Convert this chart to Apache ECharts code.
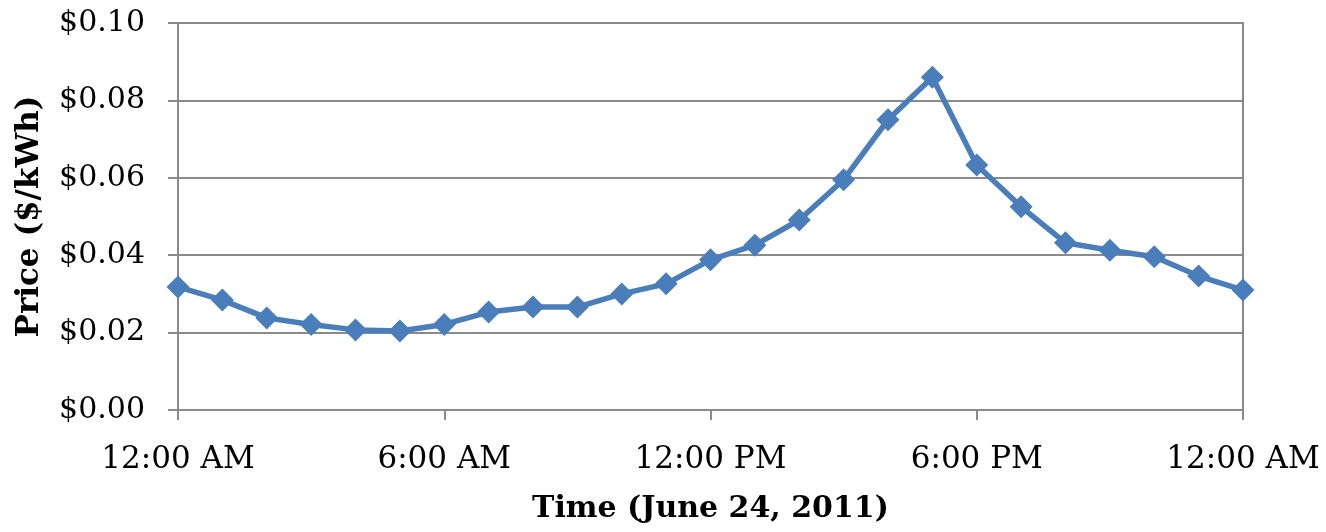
<!DOCTYPE html>
<html>
<head>
<meta charset="utf-8">
<script src="https://cdn.jsdelivr.net/npm/echarts@6/dist/echarts.min.js"></script>
<style>html,body{margin:0;padding:0;background:#fff}#c{width:1326px;height:532px}</style>
</head>
<body>
<div id="c"></div>
<script>
const hours = [0,1,2,3,4,5,6,7,8,9,10,11,12,13,14,15,16,17,18,19,20,21,22,23,24];
const prices = [0.0318,0.0284,0.0238,0.0221,0.0207,0.0204,0.0221,0.0253,0.0266,0.0266,0.0300,0.0326,0.0388,0.0426,0.0491,0.0595,0.0750,0.0860,0.0633,0.0525,0.0432,0.0413,0.0396,0.0346,0.0310];
const xTickLabels = {0:'12:00 AM',6:'6:00 AM',12:'12:00 PM',18:'6:00 PM',24:'12:00 AM'};
const xTitle = 'Time (June 24, 2011)';
const yTitle = 'Price ($/kWh)';

const gridColor = '#8a8a8a';
const font = '"DejaVu Serif", serif';
const chart = echarts.init(document.getElementById('c'), null, {renderer:'canvas'});
chart.setOption({
  animation:false,
  grid:{left:178,right:83,top:23,bottom:122,containLabel:false},
  xAxis:{
    type:'value',min:0,max:24,interval:6,
    name:xTitle,nameLocation:'middle',nameGap:84,
    nameTextStyle:{fontFamily:font,fontWeight:'bold',fontSize:30,color:'#000'},
    axisLine:{show:true,lineStyle:{color:gridColor,width:2}},
    axisTick:{show:true,length:10,lineStyle:{color:gridColor,width:2}},
    splitLine:{show:false},
    axisLabel:{fontFamily:font,fontSize:31,color:'#000',margin:34,formatter:v=>xTickLabels[v]||''}
  },
  yAxis:[{
    type:'value',min:0,max:0.1,interval:0.02,
    name:yTitle,nameLocation:'middle',nameGap:133,
    nameTextStyle:{fontFamily:font,fontWeight:'bold',fontSize:31,color:'#000'},
    axisLine:{show:true,lineStyle:{color:gridColor,width:2}},
    axisTick:{show:true,length:10,lineStyle:{color:gridColor,width:2}},
    splitLine:{show:true,lineStyle:{color:gridColor,width:2}},
    axisLabel:{fontFamily:font,fontSize:30,color:'#000',margin:33,formatter:v=>'$'+v.toFixed(2)}
  },{
    type:'value',min:0,max:0.1,interval:0.02,position:'right',
    axisLine:{show:true,lineStyle:{color:gridColor,width:2}},
    axisTick:{show:false},axisLabel:{show:false},splitLine:{show:false}
  }],
  series:[{
    type:'line',
    data:hours.map((h,i)=>[h,prices[i]]),
    symbol:'diamond',symbolSize:23,
    lineStyle:{color:'#4A7EBB',width:5.5},
    itemStyle:{color:'#4A7EBB'}
  }]
});
</script>
</body>
</html>
